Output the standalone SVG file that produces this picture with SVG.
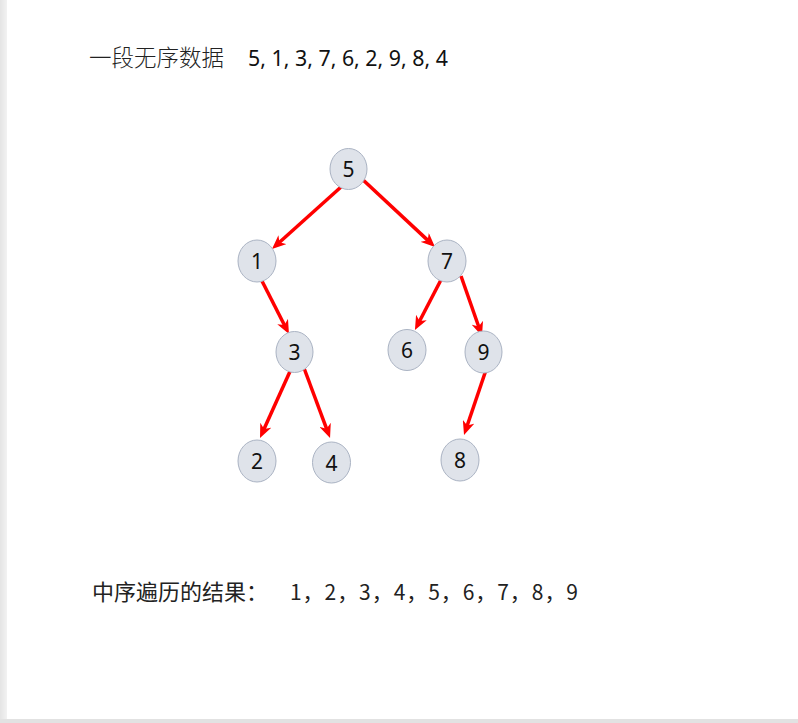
<svg xmlns="http://www.w3.org/2000/svg" width="798" height="723" viewBox="0 0 798 723">
<style>
.node ellipse{fill:#dfe3ea;stroke:#aab3c3;stroke-width:1}
.node text{font-family:"Noto Sans","Open Sans",sans-serif;font-size:21px;fill:#111;text-anchor:middle}
.edge{stroke:#ff0000;stroke-width:3.5;fill:none;marker-end:url(#arr)}
.cjk{font-family:"Noto Sans CJK SC",sans-serif;font-weight:300;font-size:22.5px;fill:#222}
.num{font-family:"Noto Sans","Open Sans",sans-serif;font-size:21px;fill:#111}
</style>
<defs>
<marker id="arr" viewBox="0 0 14 12" refX="5" refY="6" markerWidth="14" markerHeight="12" markerUnits="userSpaceOnUse" orient="auto">
<path d="M0,0 L14,6 L0,12 L4,6 Z" fill="#ff0000"/>
</marker>
<linearGradient id="lg" x1="0" y1="0" x2="1" y2="0">
<stop offset="0" stop-color="#e4e4e4"/><stop offset="1" stop-color="#f2f2f2"/>
</linearGradient>
</defs>
<rect width="798" height="723" fill="#ffffff"/>
<rect x="0" y="0" width="7" height="723" fill="url(#lg)"/>
<rect x="0" y="719" width="798" height="4" fill="#e2e2e2"/>

<text class="cjk" x="89" y="66">一段无序数据</text>
<text class="num" x="248" y="66" textLength="200" lengthAdjust="spacingAndGlyphs">5, 1, 3, 7, 6, 2, 9, 8, 4</text>

<g id="connectors">
<line class="edge" x1="341" y1="187" x2="278.7" y2="243"/>
<line class="edge" x1="361" y1="178" x2="428.4" y2="240.9"/>
<line class="edge" x1="262" y1="281" x2="284.9" y2="326"/>
<line class="edge" x1="443" y1="276" x2="419.1" y2="322"/>
<line class="edge" x1="461" y1="276" x2="479" y2="327.5"/>
<line class="edge" x1="292" y1="367" x2="263.7" y2="429.8"/>
<line class="edge" x1="304" y1="368" x2="326.9" y2="429.6"/>
<line class="edge" x1="486" y1="370" x2="466.9" y2="426.5"/>
</g>

<g id="n5" class="node"><ellipse cx="348.5" cy="169" rx="18.5" ry="20.5"/><text x="348.5" y="177">5</text></g>
<g id="n1" class="node"><ellipse cx="257" cy="261" rx="19" ry="21"/><text x="257" y="269">1</text></g>
<g id="n7" class="node"><ellipse cx="447" cy="261" rx="19" ry="21"/><text x="447" y="269">7</text></g>
<g id="n3" class="node"><ellipse cx="294.5" cy="352" rx="18.5" ry="20.5"/><text x="294.5" y="360">3</text></g>
<g id="n6" class="node"><ellipse cx="407" cy="350" rx="19" ry="20.5"/><text x="407" y="358">6</text></g>
<g id="n9" class="node"><ellipse cx="483.5" cy="352" rx="18.5" ry="21"/><text x="483.5" y="360">9</text></g>
<g id="n2" class="node"><ellipse cx="257" cy="461" rx="19" ry="21"/><text x="257" y="469">2</text></g>
<g id="n4" class="node"><ellipse cx="331.5" cy="462.5" rx="19" ry="20.5"/><text x="331.5" y="470.5">4</text></g>
<g id="n8" class="node"><ellipse cx="460" cy="460" rx="19" ry="21"/><text x="460" y="468">8</text></g>

<text class="cjk" x="92" y="600" style="font-weight:400;font-size:22px">中序遍历的结果：</text>
<text class="cjk" x="290" y="600" style="font-weight:400;font-size:21px" textLength="288" lengthAdjust="spacing">1，2，3，4，5，6，7，8，9</text>
</svg>
